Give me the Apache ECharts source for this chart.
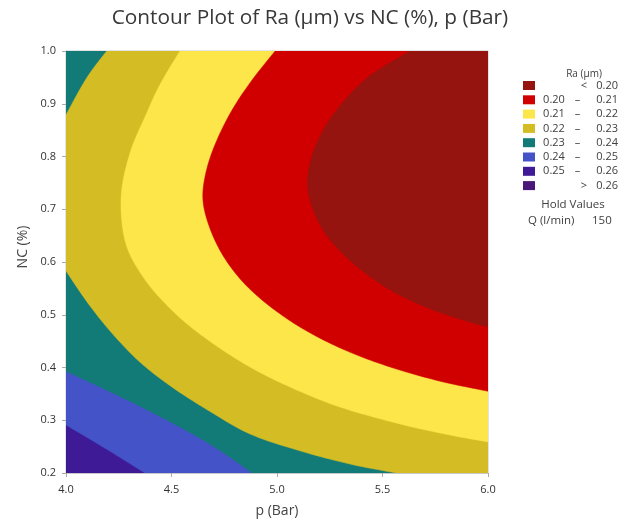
<!DOCTYPE html>
<html><head><meta charset="utf-8">
<script src="https://cdn.jsdelivr.net/npm/echarts@6/dist/echarts.min.js"></script>
<style>html,body{margin:0;padding:0;background:#fff}#chart{width:633px;height:523px}</style>
</head><body><div id="chart"></div>
<script>
// Axis ranges / ticks
const pRange = [4.0, 6.0];
const ncRange = [0.2, 1.0];
const pTickStep = 0.5;
const ncTickStep = 0.1;

// Legend levels (top to bottom) and colours
const levelNames = ['< 0.20', '0.20 – 0.21', '0.21 – 0.22', '0.22 – 0.23', '0.23 – 0.24', '0.24 – 0.25', '0.25 – 0.26', '> 0.26'];
const levelColors = ['#95140F', '#D10000', '#FCE64A', '#D4BC24', '#137B77', '#4453C8', '#3F1A96', '#4A1878'];

// Contour lines, [p (Bar), NC (%)]
const c020 = [[5.630,1.0],[5.427,0.949],[5.275,0.884],[5.185,0.822],[5.147,0.765],[5.156,0.718],[5.213,0.664],[5.313,0.615],[5.441,0.572],[5.573,0.539],[5.739,0.509],[5.915,0.486],[6.0,0.477]];
const c021 = [[4.991,1.0],[4.882,0.945],[4.787,0.888],[4.711,0.827],[4.664,0.771],[4.649,0.718],[4.682,0.664],[4.749,0.609],[4.848,0.558],[4.976,0.513],[5.133,0.471],[5.322,0.433],[5.536,0.401],[5.773,0.374],[6.0,0.355]];
const c022 = [[4.540,1.0],[4.445,0.936],[4.379,0.879],[4.308,0.812],[4.265,0.740],[4.265,0.676],[4.294,0.623],[4.360,0.575],[4.445,0.532],[4.564,0.486],[4.706,0.443],[4.872,0.401],[5.062,0.363],[5.299,0.325],[5.583,0.293],[5.820,0.272],[6.0,0.259]];
const c023Upper = [[4.193,1.0],[4.098,0.949],[4.0,0.879]];
const c023Lower = [[4.0,0.583],[4.104,0.522],[4.218,0.465],[4.351,0.410],[4.502,0.363],[4.673,0.319],[4.872,0.274],[5.109,0.242],[5.346,0.217],[5.564,0.2]];
const c024 = [[4.0,0.393],[4.209,0.354],[4.422,0.312],[4.635,0.266],[4.777,0.230],[4.882,0.2]];
const c025 = [[4.0,0.291],[4.185,0.247],[4.374,0.2]];

// Regions (Ra below a level), painted largest first; corners: TL/TR/BL/BR
const regions = [
  { name: '0.25 – 0.26', outline: ['BL', 'TL', 'TR', 'BR'] },
  { name: '0.24 – 0.25', outline: [c025, 'BR', 'TR', 'TL'] },
  { name: '0.23 – 0.24', outline: [c024, 'BR', 'TR', 'TL'] },
  { name: '0.22 – 0.23', outline: [c023Upper, c023Lower, 'BR', 'TR'] },
  { name: '0.21 – 0.22', outline: [c022, 'TR'] },
  { name: '0.20 – 0.21', outline: [c021, 'TR'] },
  { name: '< 0.20', outline: [c020, 'TR'] }
];

const holdName = 'Q (l/min)';
const holdValue = '150';

function cornerPoint(code) {
  return [code[1] === 'L' ? pRange[0] : pRange[1], code[0] === 'B' ? ncRange[0] : ncRange[1]];
}

function makeRender(outline, color) {
  return function (params, api) {
    const out = [];
    outline.forEach(piece => {
      if (typeof piece === 'string') { out.push(api.coord(cornerPoint(piece))); return; }
      const pts = piece.map(v => api.coord(v));
      out.push(pts[0]);
      for (let i = 0; i < pts.length - 1; i++) {
        const p0 = pts[i - 1] || pts[i], p1 = pts[i], p2 = pts[i + 1], p3 = pts[i + 2] || pts[i + 1];
        const steps = 12;
        for (let s = 1; s <= steps; s++) {
          const t = s / steps, t2 = t * t, t3 = t2 * t;
          const f = k => 0.5 * ((2 * p1[k]) + (-p0[k] + p2[k]) * t + (2 * p0[k] - 5 * p1[k] + 4 * p2[k] - p3[k]) * t2 + (-p0[k] + 3 * p1[k] - 3 * p2[k] + p3[k]) * t3);
          out.push([f(0), f(1)]);
        }
      }
    });
    return { type: 'polygon', shape: { points: out }, style: { fill: color, stroke: color, lineWidth: 0.5 } };
  };
}

const colorOf = name => levelColors[levelNames.indexOf(name)];

const series = regions.map(r => ({
  name: r.name,
  type: 'custom',
  coordinateSystem: 'cartesian2d',
  clip: true,
  silent: true,
  itemStyle: { color: colorOf(r.name) },
  renderItem: makeRender(r.outline, colorOf(r.name)),
  data: [[pRange[0], ncRange[0]]]
}));
// legend-only level not present in the plotted window
series.push({ name: '> 0.26', type: 'custom', coordinateSystem: 'cartesian2d', itemStyle: { color: colorOf('> 0.26') }, renderItem: () => null, data: [] });

const font = "'Open Sans', 'Noto Sans', sans-serif";
const txt = '#404040';
const chart = echarts.init(document.getElementById('chart'), null, { renderer: 'canvas' });
chart.setOption({
  animation: false,
  backgroundColor: '#ffffff',
  textStyle: { fontFamily: font },
  title: [
    { text: 'Contour Plot of Ra (µm) vs NC (%), p (Bar)', left: 310, top: 8, textAlign: 'center', padding: 0,
      textStyle: { fontSize: 20.8, fontWeight: 'normal', color: '#383838', fontFamily: font } },
    { text: 'Ra (µm)', left: 584, top: 69, textAlign: 'center', padding: 0,
      textStyle: { fontSize: 10, fontWeight: 'normal', color: txt, fontFamily: font } },
    { text: 'Hold Values', left: 573, top: 199, textAlign: 'center', padding: 0,
      textStyle: { fontSize: 11.5, fontWeight: 'normal', color: txt, fontFamily: font } },
    { text: '{a|' + holdName + '}{b|' + holdValue + '}', left: 528, top: 215, padding: 0,
      textStyle: { fontWeight: 'normal', rich: {
        a: { fontSize: 11.5, fontWeight: 'normal', color: txt, width: 64, fontFamily: font },
        b: { fontSize: 11.5, fontWeight: 'normal', color: txt, fontFamily: font } } } }
  ],
  legend: {
    data: levelNames,
    orient: 'vertical',
    left: 523, top: 79.5, padding: 0,
    itemWidth: 12, itemHeight: 9, itemGap: 2.3,
    icon: 'rect',
    selectedMode: false,
    formatter: name => {
      if (name[0] === '<' || name[0] === '>') return '{a|}{s|' + name[0] + '}{b|' + name.slice(2) + '}';
      const parts = name.split(' – ');
      return '{a|' + parts[0] + '}{m|–}{b|' + parts[1] + '}';
    },
    textStyle: {
      fontSize: 11, color: txt, lineHeight: 12, fontFamily: font,
      rich: {
        a: { width: 28, align: 'right', fontSize: 11, color: txt, lineHeight: 12 },
        m: { width: 19, align: 'center', fontSize: 11, color: txt, lineHeight: 12 },
        s: { width: 19, align: 'right', fontSize: 11, color: txt, lineHeight: 12 },
        b: { width: 31, align: 'right', fontSize: 11, color: txt, lineHeight: 12 }
      }
    }
  },
  grid: { left: 66, top: 51, right: 145, bottom: 50, show: true, borderColor: '#c8c8c8', borderWidth: 1 },
  xAxis: {
    type: 'value', min: pRange[0], max: pRange[1], interval: pTickStep,
    name: 'p (Bar)', nameLocation: 'middle', nameGap: 31,
    nameTextStyle: { fontSize: 14, color: '#444', fontFamily: font },
    axisLine: { show: true, lineStyle: { color: '#c8c8c8' } },
    axisTick: { show: true, length: 4, lineStyle: { color: '#aaa' } },
    axisLabel: { fontSize: 11, color: '#333', margin: 11, formatter: v => v.toFixed(1) },
    splitLine: { show: false }
  },
  yAxis: {
    type: 'value', min: ncRange[0], max: ncRange[1], interval: ncTickStep,
    name: 'NC (%)', nameLocation: 'middle', nameGap: 36, nameRotate: 90,
    nameTextStyle: { fontSize: 14, color: '#444', fontFamily: font, padding: [0, 0, 0, 30] },
    axisLine: { show: true, lineStyle: { color: '#c8c8c8' } },
    axisTick: { show: true, length: 4, lineStyle: { color: '#aaa' } },
    axisLabel: { fontSize: 11, color: '#333', margin: 10, formatter: v => v.toFixed(1) },
    splitLine: { show: false }
  },
  series: series
});
</script></body></html>
